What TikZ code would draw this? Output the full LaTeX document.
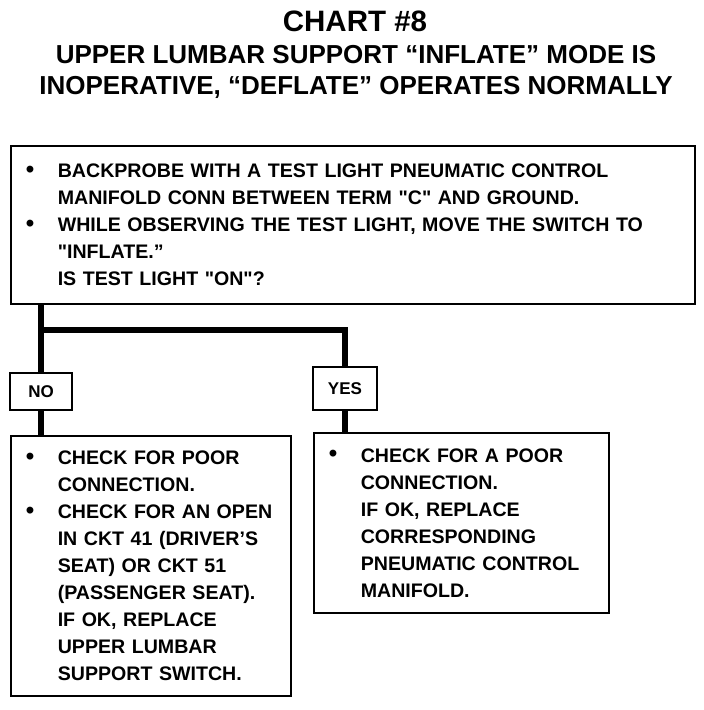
\documentclass[tikz,border=0pt]{standalone}
\usepackage{fontspec}
\setmainfont{Liberation Sans}
\usetikzlibrary{positioning,calc}

\tikzset{
  chartbox/.style={draw,line width=1.6pt,anchor=north west,inner xsep=15pt,inner ysep=0pt,align=left,font=\bfseries\fontsize{19.6}{27}\selectfont},
  tagbox/.style={draw,line width=1.6pt,inner sep=0pt,font=\bfseries\fontsize{17}{18}\selectfont},
  link/.style={line width=6.5pt}
}
\newcommand{\bul}{\makebox[32pt][l]{\raisebox{0.5pt}{\fontsize{24}{24}\selectfont\textbullet}}}
\newcommand{\ind}{\hspace*{32pt}}
\newcommand{\dq}{{\addfontfeatures{Ligatures=TeXOff}\char34\relax}}

\begin{document}
\begin{tikzpicture}[x=1pt,y=-1pt]
  \useasboundingbox (0,0) rectangle (704,710);
  % heading
  \node[font=\bfseries\fontsize{29.5}{32}\selectfont] (head) at (355,21) {CHART \#8};
  \node[font=\bfseries\fontsize{26}{31}\selectfont,align=center] (sub) at (356,72)
    {UPPER LUMBAR SUPPORT “INFLATE” MODE IS\\INOPERATIVE, “DEFLATE” OPERATES NORMALLY};
  % question
  \node[chartbox,minimum width=684,minimum height=158,text width=654] (ask) at (10,145)
    {\bul BACKPROBE WITH A TEST LIGHT PNEUMATIC CONTROL\\
     \ind MANIFOLD CONN BETWEEN TERM \dq C\dq\ AND GROUND.\\
     \bul WHILE OBSERVING THE TEST LIGHT, MOVE THE SWITCH TO\\
     \ind \dq INFLATE.”\\
     \ind IS TEST LIGHT \dq ON\dq?};
  % answers
  \node[tagbox,minimum width=62,minimum height=37] (no) at (41,391.5) {NO};
  \node[tagbox,minimum width=64,minimum height=43] (yes) at (345,388.5) {YES};
  \node[chartbox,minimum width=280,minimum height=260,text width=250] (fixno) at (10,435)
    {\bul CHECK FOR POOR\\
     \ind CONNECTION.\\
     \bul CHECK FOR AN OPEN\\
     \ind IN CKT 41 (DRIVER’S\\
     \ind SEAT) OR CKT 51\\
     \ind (PASSENGER SEAT).\\
     \ind IF OK, REPLACE\\
     \ind UPPER LUMBAR\\
     \ind SUPPORT SWITCH.};
  \node[chartbox,minimum width=295,minimum height=180,text width=265] (fixyes) at (313,432)
    {\bul CHECK FOR A POOR\\
     \ind CONNECTION.\\
     \ind IF OK, REPLACE\\
     \ind CORRESPONDING\\
     \ind PNEUMATIC CONTROL\\
     \ind MANIFOLD.};
  % connectors
  \coordinate (split) at (0,330);
  \draw[link] (no.north |- ask.south) -- (no.north);
  \draw[link] (no.north |- split) -- (split -| yes.north) -- (yes.north);
  \draw[link] (no.south) -- (no.south |- fixno.north);
  \draw[link] (yes.south) -- (yes.south |- fixyes.north);
\end{tikzpicture}
\end{document}
